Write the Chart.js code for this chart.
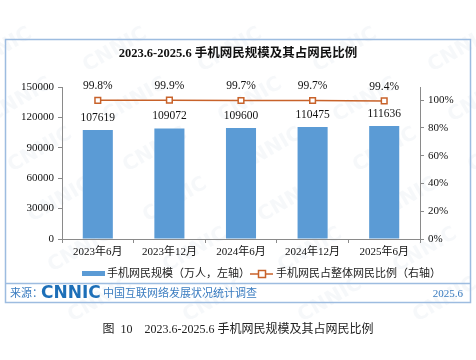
<!DOCTYPE html>
<html>
<head>
<meta charset="utf-8">
<script src="https://cdn.jsdelivr.net/npm/chart.js@4.4.1/dist/chart.umd.min.js"></script>
<style>
  html, body { margin: 0; padding: 0; background: #fff; }
  #wrap { width: 476px; height: 360px; }
</style>
</head>
<body>
<div id="wrap"><canvas id="myChart" width="476" height="360"></canvas></div>
<script>
// chart data
const categories = ["2023年6月", "2023年12月", "2024年6月", "2024年12月", "2025年6月"];
const mobileUsers = [107619, 109072, 109600, 110475, 111636];
const mobileShare = [99.8, 99.9, 99.7, 99.7, 99.4];
const leftTicks = [0, 30000, 60000, 90000, 120000, 150000];
const rightTicks = [0, 20, 40, 60, 80, 100];

const titleText = "2023.6-2025.6 手机网民规模及其占网民比例";
const legendBar = "手机网民规模（万人，左轴）";
const legendLine = "手机网民占整体网民比例（右轴）";
const sourceLabel = "来源：";
const sourceText = "中国互联网络发展状况统计调查";
const sourceDate = "2025.6";
const captionText = "图  10    2023.6-2025.6 手机网民规模及其占网民比例";

const FONT = '"Liberation Serif", "Noto Sans CJK SC", serif';
const BLUE = "#5B9BD5";
const ORANGE = "#C8622A";
const AXIS = "#8a8a8a";

const decor = {
  id: "decor",
  beforeDraw(chart) {
    const ctx = chart.ctx;
    ctx.save();
    // faint watermark
    ctx.fillStyle = "rgba(225,231,238,0.3)";
    ctx.font = 'bold 20px "DejaVu Sans", sans-serif';
    ctx.textAlign = "center";
    ctx.textBaseline = "middle";
    for (let gx = -20; gx < 520; gx += 115) {
      for (let gy = 50; gy < 320; gy += 50) {
        ctx.save();
        ctx.translate(gx + (gy / 50) * 20, gy);
        ctx.rotate(-Math.PI / 6);
        ctx.fillText("CNNIC", 0, 0);
        ctx.restore();
      }
    }
    // frame
    ctx.strokeStyle = "#9DBCE0";
    ctx.lineWidth = 1.5;
    ctx.strokeRect(5.5, 39.5, 465, 263);
    ctx.beginPath();
    ctx.moveTo(5.5, 283.5);
    ctx.lineTo(470.5, 283.5);
    ctx.stroke();
    // title
    ctx.fillStyle = "#111";
    ctx.font = 'bold 12.5px ' + FONT;
    ctx.textAlign = "center";
    ctx.fillText(titleText, 238, 54);
    ctx.restore();
  },
  afterDraw(chart) {
    const ctx = chart.ctx;
    ctx.save();
    ctx.textBaseline = "middle";
    // legend
    ctx.fillStyle = BLUE;
    ctx.fillRect(82, 271, 23, 5);
    ctx.fillStyle = "#222";
    ctx.font = '11px ' + FONT;
    ctx.textAlign = "left";
    ctx.fillText(legendBar, 107, 274);
    ctx.strokeStyle = ORANGE;
    ctx.lineWidth = 1.5;
    ctx.beginPath();
    ctx.moveTo(250, 274);
    ctx.lineTo(273, 274);
    ctx.stroke();
    ctx.fillStyle = "#fff";
    ctx.fillRect(258.5, 270.5, 7, 7);
    ctx.strokeRect(258.5, 270.5, 7, 7);
    ctx.fillStyle = "#222";
    ctx.fillText(legendLine, 276, 274);
    // source row
    ctx.fillStyle = "#3A7CC0";
    ctx.font = '11px ' + FONT;
    ctx.fillText(sourceLabel, 10, 294);
    ctx.fillStyle = "#1D6FB8";
    ctx.font = 'bold 17px "DejaVu Sans", sans-serif';
    ctx.fillText("CNNIC", 41, 294);
    ctx.fillStyle = "#3A7CC0";
    ctx.font = '11px ' + FONT;
    ctx.fillText(sourceText, 103, 294);
    ctx.textAlign = "right";
    ctx.fillText(sourceDate, 463, 294);
    // caption
    ctx.fillStyle = "#222";
    ctx.font = '12px ' + FONT;
    ctx.textAlign = "center";
    ctx.fillText(captionText, 238, 330);
    ctx.restore();
  },
  afterDatasetsDraw(chart) {
    const ctx = chart.ctx;
    ctx.save();
    ctx.fillStyle = "#111";
    ctx.font = '11.5px ' + FONT;
    ctx.textAlign = "center";
    ctx.textBaseline = "middle";
    const bars = chart.getDatasetMeta(1).data;
    bars.forEach((b, i) => ctx.fillText(String(mobileUsers[i]), b.x, b.y - 12));
    const pts = chart.getDatasetMeta(0).data;
    pts.forEach((p, i) => ctx.fillText(mobileShare[i].toFixed(1) + "%", p.x, p.y - 14));
    ctx.restore();
  }
};

new Chart(document.getElementById("myChart").getContext("2d"), {
  type: "bar",
  data: {
    labels: categories,
    datasets: [{
      type: "line",
      data: mobileShare,
      yAxisID: "y1",
      borderColor: ORANGE,
      borderWidth: 1.5,
      pointStyle: "rect",
      pointRadius: 4,
      pointBackgroundColor: "#fff",
      pointBorderColor: ORANGE,
      pointBorderWidth: 1.5,
      fill: false,
      order: 0
    }, {
      type: "bar",
      data: mobileUsers,
      yAxisID: "y",
      backgroundColor: BLUE,
      barPercentage: 0.42,
      categoryPercentage: 1,
      order: 1
    }]
  },
  options: {
    responsive: false,
    animation: false,
    layout: { padding: { top: 87, left: 0, right: 0, bottom: 0 } },
    plugins: { legend: { display: false }, tooltip: { enabled: false } },
    scales: {
      x: {
        afterFit: s => { s.height = 121; },
        grid: { display: true, drawOnChartArea: false, offset: true, tickLength: 4, color: AXIS },
        border: { color: AXIS },
        ticks: { color: "#111", font: { family: FONT, size: 11 }, padding: 3, maxRotation: 0 }
      },
      y: {
        position: "left",
        min: 0,
        max: 150000,
        afterFit: s => { s.width = 62; },
        afterBuildTicks: s => { s.ticks = leftTicks.map(v => ({ value: v })); },
        grid: { drawOnChartArea: false, tickLength: 4, color: AXIS },
        border: { color: AXIS },
        ticks: { color: "#111", font: { family: FONT, size: 11 }, padding: 4, callback: v => String(v) }
      },
      y1: {
        position: "right",
        min: 0,
        max: 109.4,
        afterFit: s => { s.width = 56; },
        afterBuildTicks: s => { s.ticks = rightTicks.map(v => ({ value: v })); },
        grid: { drawOnChartArea: false, tickLength: 4, color: AXIS },
        border: { color: AXIS },
        ticks: { color: "#111", font: { family: FONT, size: 11 }, padding: 4, callback: v => v + "%" }
      }
    }
  },
  plugins: [decor]
});
</script>
</body>
</html>
